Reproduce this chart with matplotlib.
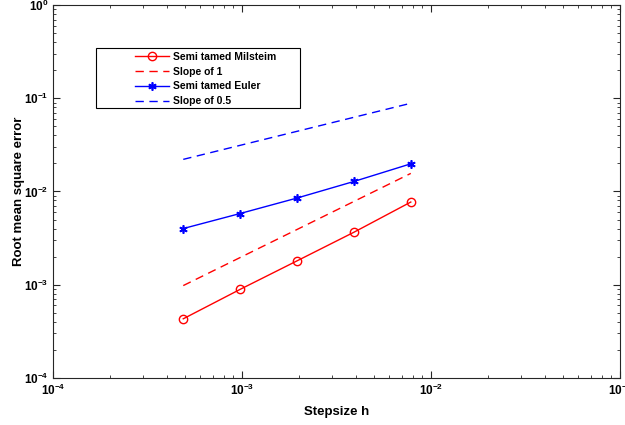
import matplotlib
matplotlib.use("Agg")
import matplotlib.pyplot as plt
from matplotlib.ticker import LogLocator, FuncFormatter, NullFormatter
from matplotlib.patches import Rectangle
import numpy as np

plt.rcParams['font.family'] = ['Liberation Sans', 'DejaVu Sans']
plt.rcParams['mathtext.fontset'] = 'custom'
plt.rcParams['mathtext.rm'] = 'Liberation Sans'
plt.rcParams['mathtext.bf'] = 'Liberation Sans:bold'

h = [1/2048, 1/1024, 1/512, 1/256, 1/128]
milstein = [4.3e-4, 8.9e-4, 1.8e-3, 3.65e-3, 7.7e-3]
euler = [4.0e-3, 5.8e-3, 8.5e-3, 1.28e-2, 1.98e-2]
slope1_h = [1/2048, 1/128]
slope1_y = [9.77e-4, 1.5625e-2]
slope05_h = [1/2048, 1/128]
slope05_y = [2.21e-2, 8.84e-2]
labels = ['Semi tamed Milsteim', 'Slope of 1', 'Semi tamed Euler', 'Slope of 0.5']

fig = plt.figure(figsize=(6.25, 4.25), dpi=100)
ax = fig.add_axes([0.085, 0.111, 0.907, 0.877])

ax.loglog(h, milstein, '-o', color='red', lw=1, ms=6, mfc='none', mew=1, label=labels[0])
ax.loglog(slope1_h, slope1_y, '--', color='red', lw=1, dashes=(6, 4), label=labels[1])
ax.loglog(h, euler, '-', marker=(6, 2, 0), color='blue', lw=1, ms=6, mew=1.2, label=labels[2])
ax.loglog(slope05_h, slope05_y, '--', color='blue', lw=1, dashes=(6, 4), label=labels[3])

ax.set_xlim(1e-4, 1e-1)
ax.set_ylim(1e-4, 1e0)

fmt = FuncFormatter(lambda v, p: r'$\mathbf{10^{%d}}$' % int(round(np.log10(v))))
ax.xaxis.set_major_locator(LogLocator(base=10, numticks=10))
ax.yaxis.set_major_locator(LogLocator(base=10, numticks=10))
ax.xaxis.set_major_formatter(fmt)
ax.yaxis.set_major_formatter(fmt)
ax.xaxis.set_minor_locator(LogLocator(base=10, subs=np.arange(2, 10), numticks=20))
ax.yaxis.set_minor_locator(LogLocator(base=10, subs=np.arange(2, 10), numticks=20))
ax.xaxis.set_minor_formatter(NullFormatter())
ax.yaxis.set_minor_formatter(NullFormatter())

axc = '#262626'
for s in ax.spines.values():
    s.set_color(axc)
    s.set_linewidth(0.8)
ax.tick_params(which='both', direction='in', top=True, right=True, colors=axc, labelcolor='black')
ax.tick_params(which='major', length=5, width=0.8, labelsize=8.5)
ax.tick_params(which='minor', length=2.5, width=0.6)

ax.set_xlabel('Stepsize h', fontsize=9.5, fontweight='bold', labelpad=6)
ax.set_ylabel('Root mean square error', fontsize=9.5, fontweight='bold', labelpad=-1)

# legend box (MATLAB style, with blank space left of the handles)
ax.add_patch(Rectangle((0.0758, 0.723), 0.36, 0.1625, transform=ax.transAxes,
                       facecolor='white', edgecolor='black', lw=0.8, zorder=4))
leg = ax.legend(loc='upper left', bbox_to_anchor=(0.1446, 0.875), frameon=False,
                handlelength=3.25, fontsize=7.5, borderpad=0,
                labelspacing=0.47, handletextpad=0.35, borderaxespad=0)
leg.set_zorder(5)
for t in leg.get_texts():
    t.set_fontweight('bold')

fig.savefig('out.png', dpi=100)
